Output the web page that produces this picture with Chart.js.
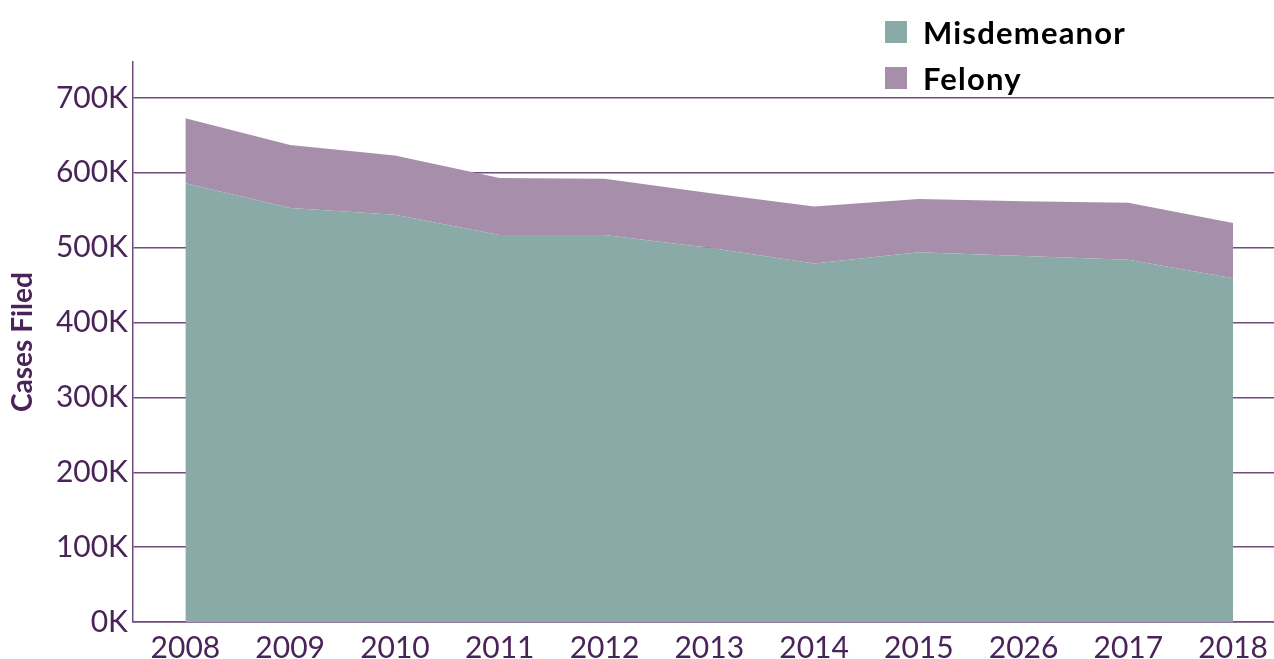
<!DOCTYPE html>
<html>
<head>
<meta charset="utf-8">
<script src="https://cdn.jsdelivr.net/npm/chart.js@4/dist/chart.umd.min.js"></script>
<style>
    html, body { margin: 0; padding: 0; background: #fff; }
    #wrap { position: relative; width: 1274px; height: 659px; }
    #legend { position: absolute; left: 885px; top: 9px; font-family: Lato, sans-serif; }
    .legend-item { display: flex; align-items: center; height: 46px; }
    .legend-box { width: 22px; height: 22px; margin-right: 16px; }
    .legend-text { font-size: 31px; font-weight: bold; color: #000; letter-spacing: 1.2px; }
</style>
</head>
<body>
<div id="wrap">
    <canvas id="myChart" width="1274" height="659"></canvas>
    <div id="legend"></div>
</div>
<script>
// Chart data
const years = ['2008', '2009', '2010', '2011', '2012', '2013', '2014', '2015', '2026', '2017', '2018'];
const misdemeanor = [586000, 553000, 544000, 517000, 517000, 500000, 479000, 494000, 489000, 484000, 459000];
const felony = [87000, 84000, 79000, 76000, 75000, 73000, 76000, 71000, 73000, 76000, 74000];
const yTicks = [0, 100000, 200000, 300000, 400000, 500000, 600000, 700000];

const textColor = '#4a2358';
const lineColor = '#6e4d7a';

const toPoints = (values) => values.map((v, i) => ({ x: i, y: v }));

const ctx = document.getElementById('myChart').getContext('2d');

const myChart = new Chart(ctx, {
    type: 'line',
    data: {
        datasets: [{
            label: 'Misdemeanor',
            data: toPoints(misdemeanor),
            backgroundColor: '#8aaaa7',
            borderWidth: 0,
            pointRadius: 0,
            fill: 'origin'
        }, {
            label: 'Felony',
            data: toPoints(felony),
            backgroundColor: '#a78fab',
            borderWidth: 0,
            pointRadius: 0,
            fill: '-1'
        }]
    },
    options: {
        responsive: false,
        animation: false,
        layout: { padding: { top: 62, right: 0, left: 0, bottom: 0 } },
        plugins: {
            legend: { display: false },
            tooltip: { enabled: false }
        },
        scales: {
            x: {
                type: 'linear',
                min: -0.5,
                max: 10.39,
                afterBuildTicks: (scale) => {
                    scale.ticks = years.map((y, i) => ({ value: i }));
                },
                afterFit: (scale) => { scale.height = 37; },
                grid: { display: false },
                border: { color: lineColor, width: 1.5 },
                ticks: {
                    color: textColor,
                    font: { family: 'Lato', size: 30 },
                    padding: 0,
                    maxRotation: 0,
                    callback: (value) => years[value]
                }
            },
            y: {
                stacked: true,
                min: 0,
                max: 748000,
                afterBuildTicks: (scale) => {
                    scale.ticks = yTicks.map(v => ({ value: v }));
                },
                afterFit: (scale) => { scale.width = 133; },
                grid: { color: lineColor, lineWidth: 1.5, drawTicks: false, tickLength: 0 },
                border: { color: lineColor, width: 1.5 },
                title: {
                    display: true,
                    text: 'Cases Filed',
                    color: textColor,
                    font: { family: 'Lato', size: 28, weight: 'bold' },
                    padding: { top: 6, bottom: 4 }
                },
                ticks: {
                    color: textColor,
                    font: { family: 'Lato', size: 30 },
                    padding: 5,
                    callback: (value) => (value / 1000) + 'K'
                }
            }
        }
    }
});

// HTML legend, one item per row
const legendContainer = document.getElementById('legend');
legendContainer.innerHTML = myChart.data.datasets.map(ds => `
    <div class="legend-item">
        <span class="legend-box" style="background-color:${ds.backgroundColor};"></span>
        <span class="legend-text">${ds.label}</span>
    </div>
`).join('');
</script>
</body>
</html>
